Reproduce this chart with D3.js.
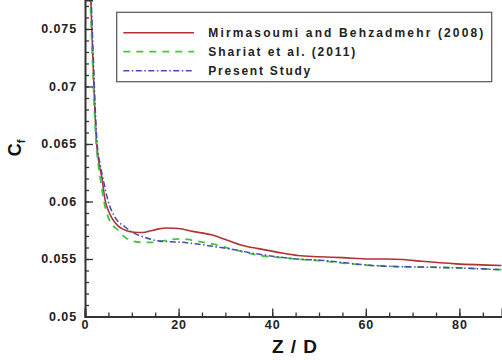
<!DOCTYPE html>
<html><head><meta charset="utf-8">
<script src="https://cdn.jsdelivr.net/npm/d3@7"></script>
<style>
html,body{margin:0;padding:0;background:#fff;}
svg{display:block;font-family:"Liberation Sans",Arial,sans-serif;}
</style></head>
<body><svg id="c" width="502" height="360"></svg>
<script>
// ---- data ----
const seriesNames = ["Mirmasoumi and Behzadmehr (2008)", "Shariat et al. (2011)", "Present Study"];
const mirmasoumiZ = [1.2,1.5,1.8,2.1,2.5,3.0,3.6,4.3,5.0,5.7,7,8.1,10,12.4,14,15.5,17.5,20,23,27,30,33.5,37,41,45.5,50,55,60.8,64.4,68,72,79.3,89];
const mirmasoumiCf = [0.0780,0.0745,0.0712,0.0680,0.0650,0.0633,0.0621,0.0601,0.0592,0.0586,0.0579,0.0576,0.05735,0.0573,0.05745,0.0576,0.0577,0.05765,0.0574,0.0571,0.0567,0.0562,0.0559,0.0556,0.0553,0.0552,0.05512,0.0550,0.0550,0.05495,0.0548,0.05458,0.05443];
const shariatZ = [1.1,1.4,1.7,2.0,2.4,2.9,3.4,4.0,5.0,6,7.1,8.5,10.3,12.5,14.5,17,20.3,22,23.8,26,28.5,31,34,37.4,41,45.2,50,55,60.8,66,72,79.3,89];
const shariatCf = [0.0780,0.0745,0.0712,0.0680,0.0650,0.0630,0.0617,0.0601,0.0586,0.0579,0.0575,0.0569,0.05655,0.05645,0.05645,0.0566,0.05675,0.0567,0.05655,0.0564,0.0562,0.0559,0.0556,0.0553,0.05515,0.0550,0.05485,0.05465,0.05445,0.05435,0.0543,0.05423,0.05408];
const presentZ = [1.3,1.6,1.9,2.2,2.6,3.2,3.8,4.9,6.3,8.5,10.7,13,15.3,18,20.3,24,27.4,32,36.6,41,45.2,50,55,60.8,66,72,79.3,89];
const presentCf = [0.0780,0.0745,0.0712,0.0680,0.0650,0.0633,0.0621,0.0601,0.0587,0.0578,0.0572,0.05685,0.0566,0.0565,0.05646,0.0563,0.0561,0.0558,0.05545,0.0552,0.0550,0.0549,0.0547,0.05445,0.05435,0.0543,0.05423,0.05406];
const xTicks = [0,20,40,60,80];
const xTickLabels = ["0","20","40","60","80"];
const yTicks = [0.05,0.055,0.06,0.065,0.07,0.075];
const yTickLabels = ["0.05","0.055","0.06","0.065","0.07","0.075"];

const svg = d3.select("#c");
const x = d3.scaleLinear().domain([0, 89.1]).range([85, 502]);
const y = d3.scaleLinear().domain([0.05, 0.07752]).range([316.5, 0]);

// clip
svg.append("clipPath").attr("id","clip").append("rect")
  .attr("x",85).attr("y",0).attr("width",417).attr("height",316.5);

const series = [
  {z: mirmasoumiZ, v: mirmasoumiCf, color:"#b03232", dash:null, w:1.6},
  {z: shariatZ, v: shariatCf, color:"#3ec93e", dash:"7,6", w:1.8},
  {z: presentZ, v: presentCf, color:"#4a4ab4", dash:"6,2.5,1.5,2.5", w:1.5}
];
const line = d3.line().x(d=>x(d[0])).y(d=>y(d[1])).curve(d3.curveMonotoneX);
const g = svg.append("g").attr("clip-path","url(#clip)");
series.forEach(s=>{
  g.append("path").datum(s.z.map((z,i)=>[z,s.v[i]]))
   .attr("d", line).attr("fill","none").attr("stroke", s.color)
   .attr("stroke-width", s.w).attr("stroke-dasharray", s.dash);
});

// axes
const axisColor = "#333";
const yMinor = d3.range(0.050, 0.0776, 0.001);
const gyMinor = svg.append("g").attr("transform","translate(85,0)")
  .call(d3.axisLeft(y).tickValues(yMinor).tickSize(-4).tickFormat(""));
const gy = svg.append("g").attr("transform","translate(85,0)")
  .call(d3.axisLeft(y).tickValues(yTicks).tickSize(-8).tickPadding(8)
        .tickFormat((d,i)=>yTickLabels[i]));
const xMinor = d3.range(0, 90, 5);
const gxMinor = svg.append("g").attr("transform","translate(0,316.5)")
  .call(d3.axisBottom(x).tickValues(xMinor).tickSize(-4).tickFormat(""));
const gx = svg.append("g").attr("transform","translate(0,316.5)")
  .call(d3.axisBottom(x).tickValues(xTicks).tickSize(-8).tickPadding(4)
        .tickFormat((d,i)=>xTickLabels[i]));
[gyMinor, gy, gxMinor, gx].forEach(a=>{
  a.selectAll(".domain").attr("stroke", axisColor).attr("stroke-width", 2);
  a.selectAll(".tick line").attr("stroke", axisColor).attr("stroke-width", 1.3);
  a.selectAll("text").attr("fill","#222").attr("font-size","12.5px")
    .attr("font-weight","bold").attr("letter-spacing","0.9px")
    .attr("font-family","'Liberation Sans', Arial, sans-serif");
});
gxMinor.select(".domain").remove();
gyMinor.select(".domain").remove();

// axis titles
svg.append("text").attr("x", 295).attr("y", 353).attr("text-anchor","middle")
  .attr("font-size","19px").attr("font-weight","bold").attr("letter-spacing","1px")
  .attr("fill","#111").text("Z / D");
const yl = svg.append("text").attr("transform","translate(21,148) rotate(-90)")
  .attr("text-anchor","middle").attr("font-size","18px").attr("font-weight","bold").attr("fill","#111");
yl.append("tspan").text("C");
yl.append("tspan").attr("font-size","11px").attr("dy","4").text("f");

// legend
const lg = svg.append("g");
lg.append("rect").attr("x",116.7).attr("y",12.3).attr("width",375).attr("height",69.4)
  .attr("fill","#fff").attr("stroke","#555").attr("stroke-width",1.2);
const rows = [32.7, 51.7, 70.7];
const textLens = [275, 147, 102];
series.forEach((s,i)=>{
  lg.append("line").attr("x1",123.3).attr("x2",194).attr("y1",rows[i]).attr("y2",rows[i])
    .attr("stroke",s.color).attr("stroke-width",s.w).attr("stroke-dasharray",s.dash);
  lg.append("text").attr("x",208.3).attr("y",rows[i]+4.3)
    .attr("font-size","12px").attr("font-weight","bold").attr("fill","#222")
    .attr("textLength", textLens[i]).attr("lengthAdjust","spacing")
    .text(seriesNames[i]);
});
</script></body></html>
